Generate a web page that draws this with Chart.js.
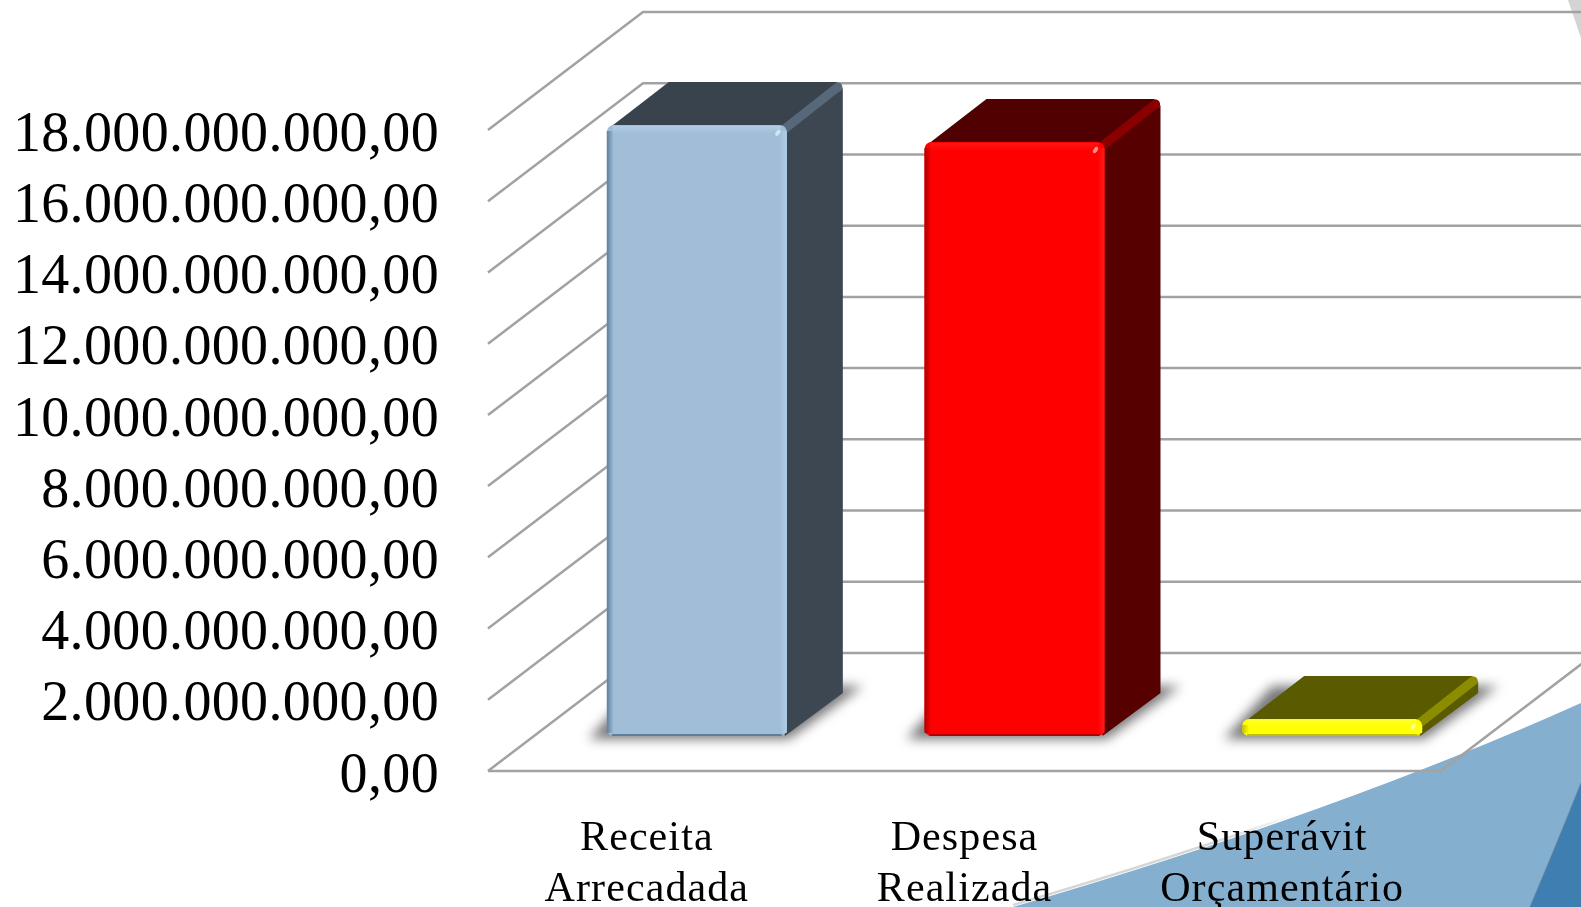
<!DOCTYPE html>
<html>
<head>
<meta charset="utf-8">
<style>
  html, body { margin: 0; padding: 0; background: #fff; overflow: hidden; }
  canvas { display: block; }
</style>
<script src="https://cdn.jsdelivr.net/npm/chart.js@4"></script>
</head>
<body>
<canvas id="grafico" width="1581" height="907"></canvas>
<script>
// Dados
const categorias = [['Receita', 'Arrecadada'], ['Despesa', 'Realizada'], ['Superávit', 'Orçamentário']];
const valores = [17160000000, 16680000000, 480000000];
const rotulosY = ['0,00', '2.000.000.000,00', '4.000.000.000,00', '6.000.000.000,00', '8.000.000.000,00',
  '10.000.000.000,00', '12.000.000.000,00', '14.000.000.000,00', '16.000.000.000,00', '18.000.000.000,00'];

// Cores das barras
const corFrente = ['#A1BDD7', '#FF0000', '#FFFF00'];
const corLado = ['#3D4751', '#560000', '#5A5A00'];
const corTopo = ['#38434D', '#500000', '#5A5A00'];
const corAresta = ['#566879', '#8A0000', '#8C8C00'];
const corBrilho = ['#B2CEE8', '#FF1A1A', '#FFFF33'];
const corEscura = ['#5F7F9E', '#B00000', '#C0C000'];

// Perspectiva do gráfico 3D
const paredeX = 155, paredeY = -118;
const barraX = 50, barraY = -35;
const fundoX = 56, fundoY = -43;

function poly(ctx, pts) {
  ctx.beginPath();
  pts.forEach((p, i) => i ? ctx.lineTo(p[0], p[1]) : ctx.moveTo(p[0], p[1]));
  ctx.closePath();
}

// Desloca os rótulos do eixo e abre um pouco as letras (a fonte original é mais larga)
function ajustaRotulos(scale, dy, espaco) {
  if (scale._ajustado) return;
  scale._ajustado = true;
  const original = scale.drawLabels;
  scale.drawLabels = function (area) {
    const c = this.ctx;
    c.save();
    c.translate(0, dy);
    c.letterSpacing = espaco + 'px';
    original.call(this, area);
    c.restore();
  };
}

// Formas decorativas do slide, atrás do gráfico
const fundoSlide = {
  id: 'fundoSlide',
  beforeDraw(chart) {
    const ctx = chart.ctx;
    ctx.save();
    ctx.fillStyle = '#ffffff';
    ctx.fillRect(0, 0, 1581, 907);

    const contorno = ctx.createLinearGradient(1013, 0, 1300, 0);
    contorno.addColorStop(0, '#D6D6D6');
    contorno.addColorStop(0.7, '#D6D6D6');
    contorno.addColorStop(1, '#FFFFFF');
    ctx.strokeStyle = contorno;
    ctx.lineWidth = 2.5;
    ctx.beginPath();
    ctx.moveTo(1013, 905);
    ctx.quadraticCurveTo(1336, 811, 1581, 701);
    ctx.stroke();

    ctx.fillStyle = '#84AFCF';
    ctx.beginPath();
    ctx.moveTo(1013, 907);
    ctx.quadraticCurveTo(1336, 813, 1581, 703);
    ctx.lineTo(1581, 907);
    ctx.closePath();
    ctx.fill();

    ctx.strokeStyle = '#8398AB';
    ctx.lineWidth = 1.5;
    ctx.beginPath();
    ctx.moveTo(1530, 907);
    ctx.quadraticCurveTo(1558, 841, 1581, 783);
    ctx.stroke();

    ctx.fillStyle = '#3F7EB0';
    ctx.beginPath();
    ctx.moveTo(1530, 907);
    ctx.quadraticCurveTo(1558, 841, 1581, 783);
    ctx.lineTo(1581, 907);
    ctx.closePath();
    ctx.fill();

    ctx.fillStyle = '#D4D4D4';
    poly(ctx, [[1568, 0], [1581, 0], [1581, 38]]);
    ctx.fill();
    ctx.restore();
  }
};

// Paredes e linhas de grade em perspectiva
const paredes = {
  id: 'paredes',
  beforeDatasetsDraw(chart) {
    const ctx = chart.ctx;
    const y = chart.scales.y;
    const a = chart.chartArea;
    ctx.save();
    ctx.strokeStyle = '#A2A2A2';
    ctx.lineWidth = 2.5;
    y.ticks.forEach(t => {
      const py = y.getPixelForValue(t.value);
      ctx.beginPath();
      ctx.moveTo(a.left, py);
      ctx.lineTo(a.left + paredeX, py + paredeY);
      ctx.lineTo(1581, py + paredeY);
      ctx.stroke();
    });
    const base = y.getPixelForValue(0);
    ctx.beginPath();
    ctx.moveTo(a.left, base);
    ctx.lineTo(a.right, base);
    ctx.lineTo(a.right + paredeX, base + paredeY);
    ctx.stroke();
    ctx.restore();
  }
};

// Sombra, topo e lateral de cada barra; a frente é a barra do Chart.js
const barras3d = {
  id: 'barras3d',
  beforeDatasetsDraw(chart) {
    const ctx = chart.ctx;
    ctx.save();
    ctx.translate(barraX, barraY);
    chart.getDatasetMeta(0).data.forEach((b, i) => {
      const esq = b.x - b.width / 2, dir = b.x + b.width / 2;
      const topo = b.y, base = b.base;

      ctx.save();
      ctx.filter = 'blur(6px)';
      ctx.fillStyle = 'rgba(60,60,60,0.7)';
      poly(ctx, [[esq - 18, base + 3], [dir + 2, base + 3], [dir + fundoX + 20, base + fundoY - 7], [esq + 30, base + fundoY - 7]]);
      ctx.fill();
      ctx.restore();

      ctx.fillStyle = corTopo[i];
      poly(ctx, [[esq + 5, topo + 1], [esq + fundoX + 6, topo + fundoY], [dir + fundoX - 7, topo + fundoY],
        [dir + fundoX - 2, topo + fundoY + 2], [dir + fundoX, topo + fundoY + 7], [dir, topo + 4]]);
      ctx.fill();

      ctx.fillStyle = corLado[i];
      poly(ctx, [[dir - 2, topo + 2], [dir + fundoX, topo + fundoY + 7], [dir + fundoX, base + fundoY], [dir - 2, base]]);
      ctx.fill();

      ctx.strokeStyle = corAresta[i];
      ctx.lineWidth = 9;
      ctx.lineCap = 'round';
      ctx.beginPath();
      ctx.moveTo(dir - 1, topo + 3);
      ctx.lineTo(dir + fundoX - 5, topo + fundoY + 5);
      ctx.stroke();
    });
  },
  afterDatasetsDraw(chart) {
    const ctx = chart.ctx;
    chart.getDatasetMeta(0).data.forEach((b, i) => {
      const esq = b.x - b.width / 2, dir = b.x + b.width / 2;
      const topo = b.y, base = b.base;
      const alt = base - topo;

      // chanfro nas bordas da frente
      let g = ctx.createLinearGradient(esq, 0, esq + 7, 0);
      g.addColorStop(0, corEscura[i]);
      g.addColorStop(1, corFrente[i]);
      ctx.fillStyle = g;
      ctx.fillRect(esq, topo + 6, 7, alt - 9);

      g = ctx.createLinearGradient(dir - 7, 0, dir, 0);
      g.addColorStop(0, corFrente[i]);
      g.addColorStop(1, corBrilho[i]);
      ctx.fillStyle = g;
      ctx.fillRect(dir - 7, topo + 6, 7, alt - 9);

      g = ctx.createLinearGradient(0, topo, 0, topo + 9);
      g.addColorStop(0, corBrilho[i]);
      g.addColorStop(1, corFrente[i]);
      ctx.fillStyle = g;
      ctx.fillRect(esq + 6, topo + 1, b.width - 12, 8);

      ctx.fillStyle = corEscura[i];
      ctx.fillRect(esq + 5, base - 2, b.width - 10, 2);

      // pequeno reflexo no canto
      ctx.fillStyle = 'rgba(255,255,255,0.55)';
      ctx.beginPath();
      ctx.ellipse(dir - 9, topo + 8, 2, 3.5, 0.6, 0, Math.PI * 2);
      ctx.fill();
    });
    ctx.restore();
  }
};

const ctx = document.getElementById('grafico').getContext('2d');
const grafico = new Chart(ctx, {
  type: 'bar',
  data: {
    labels: categorias,
    datasets: [{
      data: valores,
      backgroundColor: corFrente,
      borderWidth: 0,
      borderRadius: 7,
      borderSkipped: false,
      categoryPercentage: 1,
      barPercentage: 0.5666,
      clip: false
    }]
  },
  options: {
    responsive: false,
    animation: false,
    layout: { padding: { left: 0, top: 130, right: 140, bottom: 0 } },
    plugins: { legend: { display: false }, tooltip: { enabled: false } },
    scales: {
      y: {
        min: 0,
        max: 18000000000,
        border: { display: false },
        grid: { display: false },
        afterFit(scale) { scale.width = 488; },
        afterUpdate(scale) { ajustaRotulos(scale, 6, 0.36); },
        ticks: {
          stepSize: 2000000000,
          padding: 41,
          color: '#000',
          font: { family: '"Liberation Serif"', size: 56 },
          callback: (v, i) => rotulosY[i]
        }
      },
      x: {
        border: { display: false },
        grid: { display: false },
        afterFit(scale) { scale.height = 136; },
        afterUpdate(scale) { ajustaRotulos(scale, 0, 1.1); },
        ticks: {
          autoSkip: false,
          maxRotation: 0,
          padding: 35,
          color: '#000',
          font: { family: '"Liberation Serif"', size: 42 }
        }
      }
    }
  },
  plugins: [fundoSlide, paredes, barras3d]
});
</script>
</body>
</html>
